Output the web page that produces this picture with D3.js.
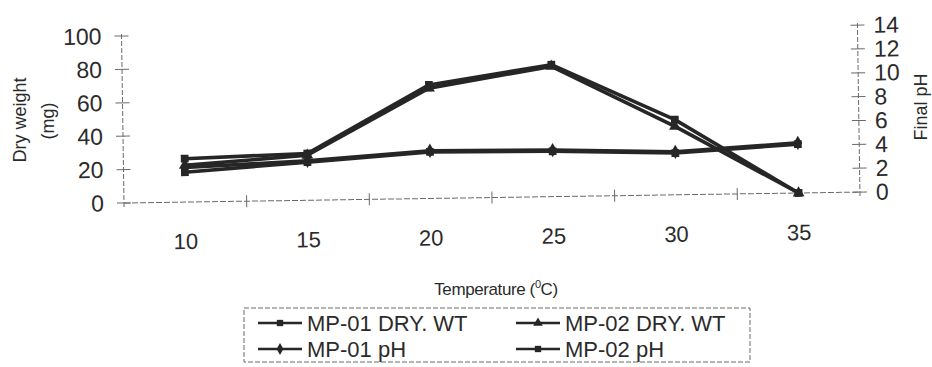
<!DOCTYPE html>
<html>
<head>
<meta charset="utf-8">
<script src="https://cdn.jsdelivr.net/npm/d3@7"></script>
<style>
  body { margin: 0; background: #fff; }
  text { font-family: "Liberation Sans", Arial, sans-serif; fill: #2b2b2b; }
</style>
</head>
<body>
<svg id="chart" width="932" height="367"></svg>
<script>
// values
const temps = [10, 15, 20, 25, 30, 35];
const dryWt01 = [26, 28, 68, 79, 45, 0];
const dryWt02 = [22, 27, 66, 78, 41, 0];
const pH01 = [2.9, 3.3, 4.0, 3.9, 3.6, 4.2];
const pH02 = [2.5, 3.2, 3.9, 3.8, 3.5, 4.1];
const leftTicks = [0, 20, 40, 60, 80, 100];
const rightTicks = [0, 2, 4, 6, 8, 10, 12, 14];
const legendNames = ["MP-01 DRY. WT", "MP-02 DRY. WT", "MP-01 pH", "MP-02 pH"];

const ink = "#262626";
const axisCol = "#6a6a6a";

const svg = d3.select("#chart");

// plot area (the scan is slightly tilted, so the plot group is rotated a little)
const x0 = 124, x1 = 860, yBot = 203, yTop = 36;
const g = svg.append("g").attr("transform", "rotate(-0.85," + x0 + "," + yBot + ")");

const x = d3.scaleBand().domain(temps).range([x0, x1]);
const yL = d3.scaleLinear().domain([0, 100]).range([yBot, yTop]);
const yR = d3.scaleLinear().domain([0, 14]).range([yBot, yTop]);
const cx = d => x(d) + x.bandwidth() / 2;

// axis lines
g.append("line").attr("x1", x0).attr("x2", x0).attr("y1", yL(100) - 2).attr("y2", yBot + 6)
  .attr("stroke", axisCol).attr("stroke-dasharray", "5,2");
g.append("line").attr("x1", x1).attr("x2", x1).attr("y1", yR(14) - 2).attr("y2", yBot + 6)
  .attr("stroke", axisCol).attr("stroke-dasharray", "5,2");
g.append("line").attr("x1", x0).attr("x2", x1).attr("y1", yBot).attr("y2", yBot)
  .attr("stroke", axisCol).attr("stroke-dasharray", "6,2");

// cross ticks
g.selectAll(".lt").data(leftTicks).join("line")
  .attr("x1", x0 - 7).attr("x2", x0 + 7).attr("y1", d => yL(d)).attr("y2", d => yL(d))
  .attr("stroke", axisCol);
g.selectAll(".rt").data(rightTicks).join("line")
  .attr("x1", x1 - 7).attr("x2", x1 + 7).attr("y1", d => yR(d)).attr("y2", d => yR(d))
  .attr("stroke", axisCol);
g.selectAll(".xt").data(temps.slice(1)).join("line")
  .attr("x1", d => x(d)).attr("x2", d => x(d)).attr("y1", yBot - 6).attr("y2", yBot + 6)
  .attr("stroke", axisCol);

// tick labels
g.selectAll(".ll").data(leftTicks).join("text")
  .attr("x", 104).attr("y", d => yL(d) + 8).attr("text-anchor", "end")
  .attr("font-size", 23).text(d => d);
g.selectAll(".rl").data(rightTicks).join("text")
  .attr("x", 876).attr("y", d => yR(d) + 8).attr("text-anchor", "start")
  .attr("font-size", 23).text(d => d);
g.selectAll(".xl").data(temps).join("text")
  .attr("x", d => cx(d)).attr("y", 250).attr("text-anchor", "middle")
  .attr("font-size", 22).text(d => d);

// series
const series = [
  {vals: dryWt01, y: yL, shape: d3.symbolSquare},
  {vals: dryWt02, y: yL, shape: d3.symbolTriangle},
  {vals: pH01, y: yR, shape: d3.symbolDiamond},
  {vals: pH02, y: yR, shape: d3.symbolSquare}
];

series.forEach(s => {
  const line = d3.line().x((d, i) => cx(temps[i])).y(d => s.y(d));
  g.append("path").attr("d", line(s.vals)).attr("fill", "none")
    .attr("stroke", ink).attr("stroke-width", 3.6).attr("stroke-linejoin", "round");
  g.selectAll(null).data(s.vals).join("path")
    .attr("transform", (d, i) => "translate(" + cx(temps[i]) + "," + s.y(d) + ")")
    .attr("d", d3.symbol().type(s.shape).size(60))
    .attr("fill", ink);
});

// axis titles
svg.append("text").attr("transform", "translate(26,120) rotate(-90)")
  .attr("text-anchor", "middle").attr("font-size", 18).text("Dry weight");
svg.append("text").attr("transform", "translate(54,121) rotate(-90)")
  .attr("text-anchor", "middle").attr("font-size", 18).text("(mg)");
svg.append("text").attr("transform", "translate(927,107) rotate(-90)")
  .attr("text-anchor", "middle").attr("font-size", 18).text("Final pH");

const xt = svg.append("text").attr("x", 496).attr("y", 295)
  .attr("text-anchor", "middle").attr("font-size", 17).attr("letter-spacing", -0.4);
xt.append("tspan").text("Temperature (");
xt.append("tspan").attr("font-size", 11).attr("dy", -7).text("0");
xt.append("tspan").attr("dy", 7).text("C)");

// legend
svg.append("rect").attr("x", 244).attr("y", 308).attr("width", 506).attr("height", 54)
  .attr("fill", "none").attr("stroke", axisCol).attr("stroke-dasharray", "5,2");

const legPos = [[258, 323], [516, 323], [258, 349], [516, 349]];
legendNames.forEach((name, i) => {
  const [lx, ly] = legPos[i];
  svg.append("line").attr("x1", lx).attr("x2", lx + 44).attr("y1", ly).attr("y2", ly)
    .attr("stroke", ink).attr("stroke-width", 2.6);
  svg.append("path").attr("transform", "translate(" + (lx + 22) + "," + ly + ")")
    .attr("d", d3.symbol().type(series[i].shape).size(40)).attr("fill", ink);
  svg.append("text").attr("x", lx + 49).attr("y", ly + 8)
    .attr("font-size", 22).text(name);
});
</script>
</body>
</html>
